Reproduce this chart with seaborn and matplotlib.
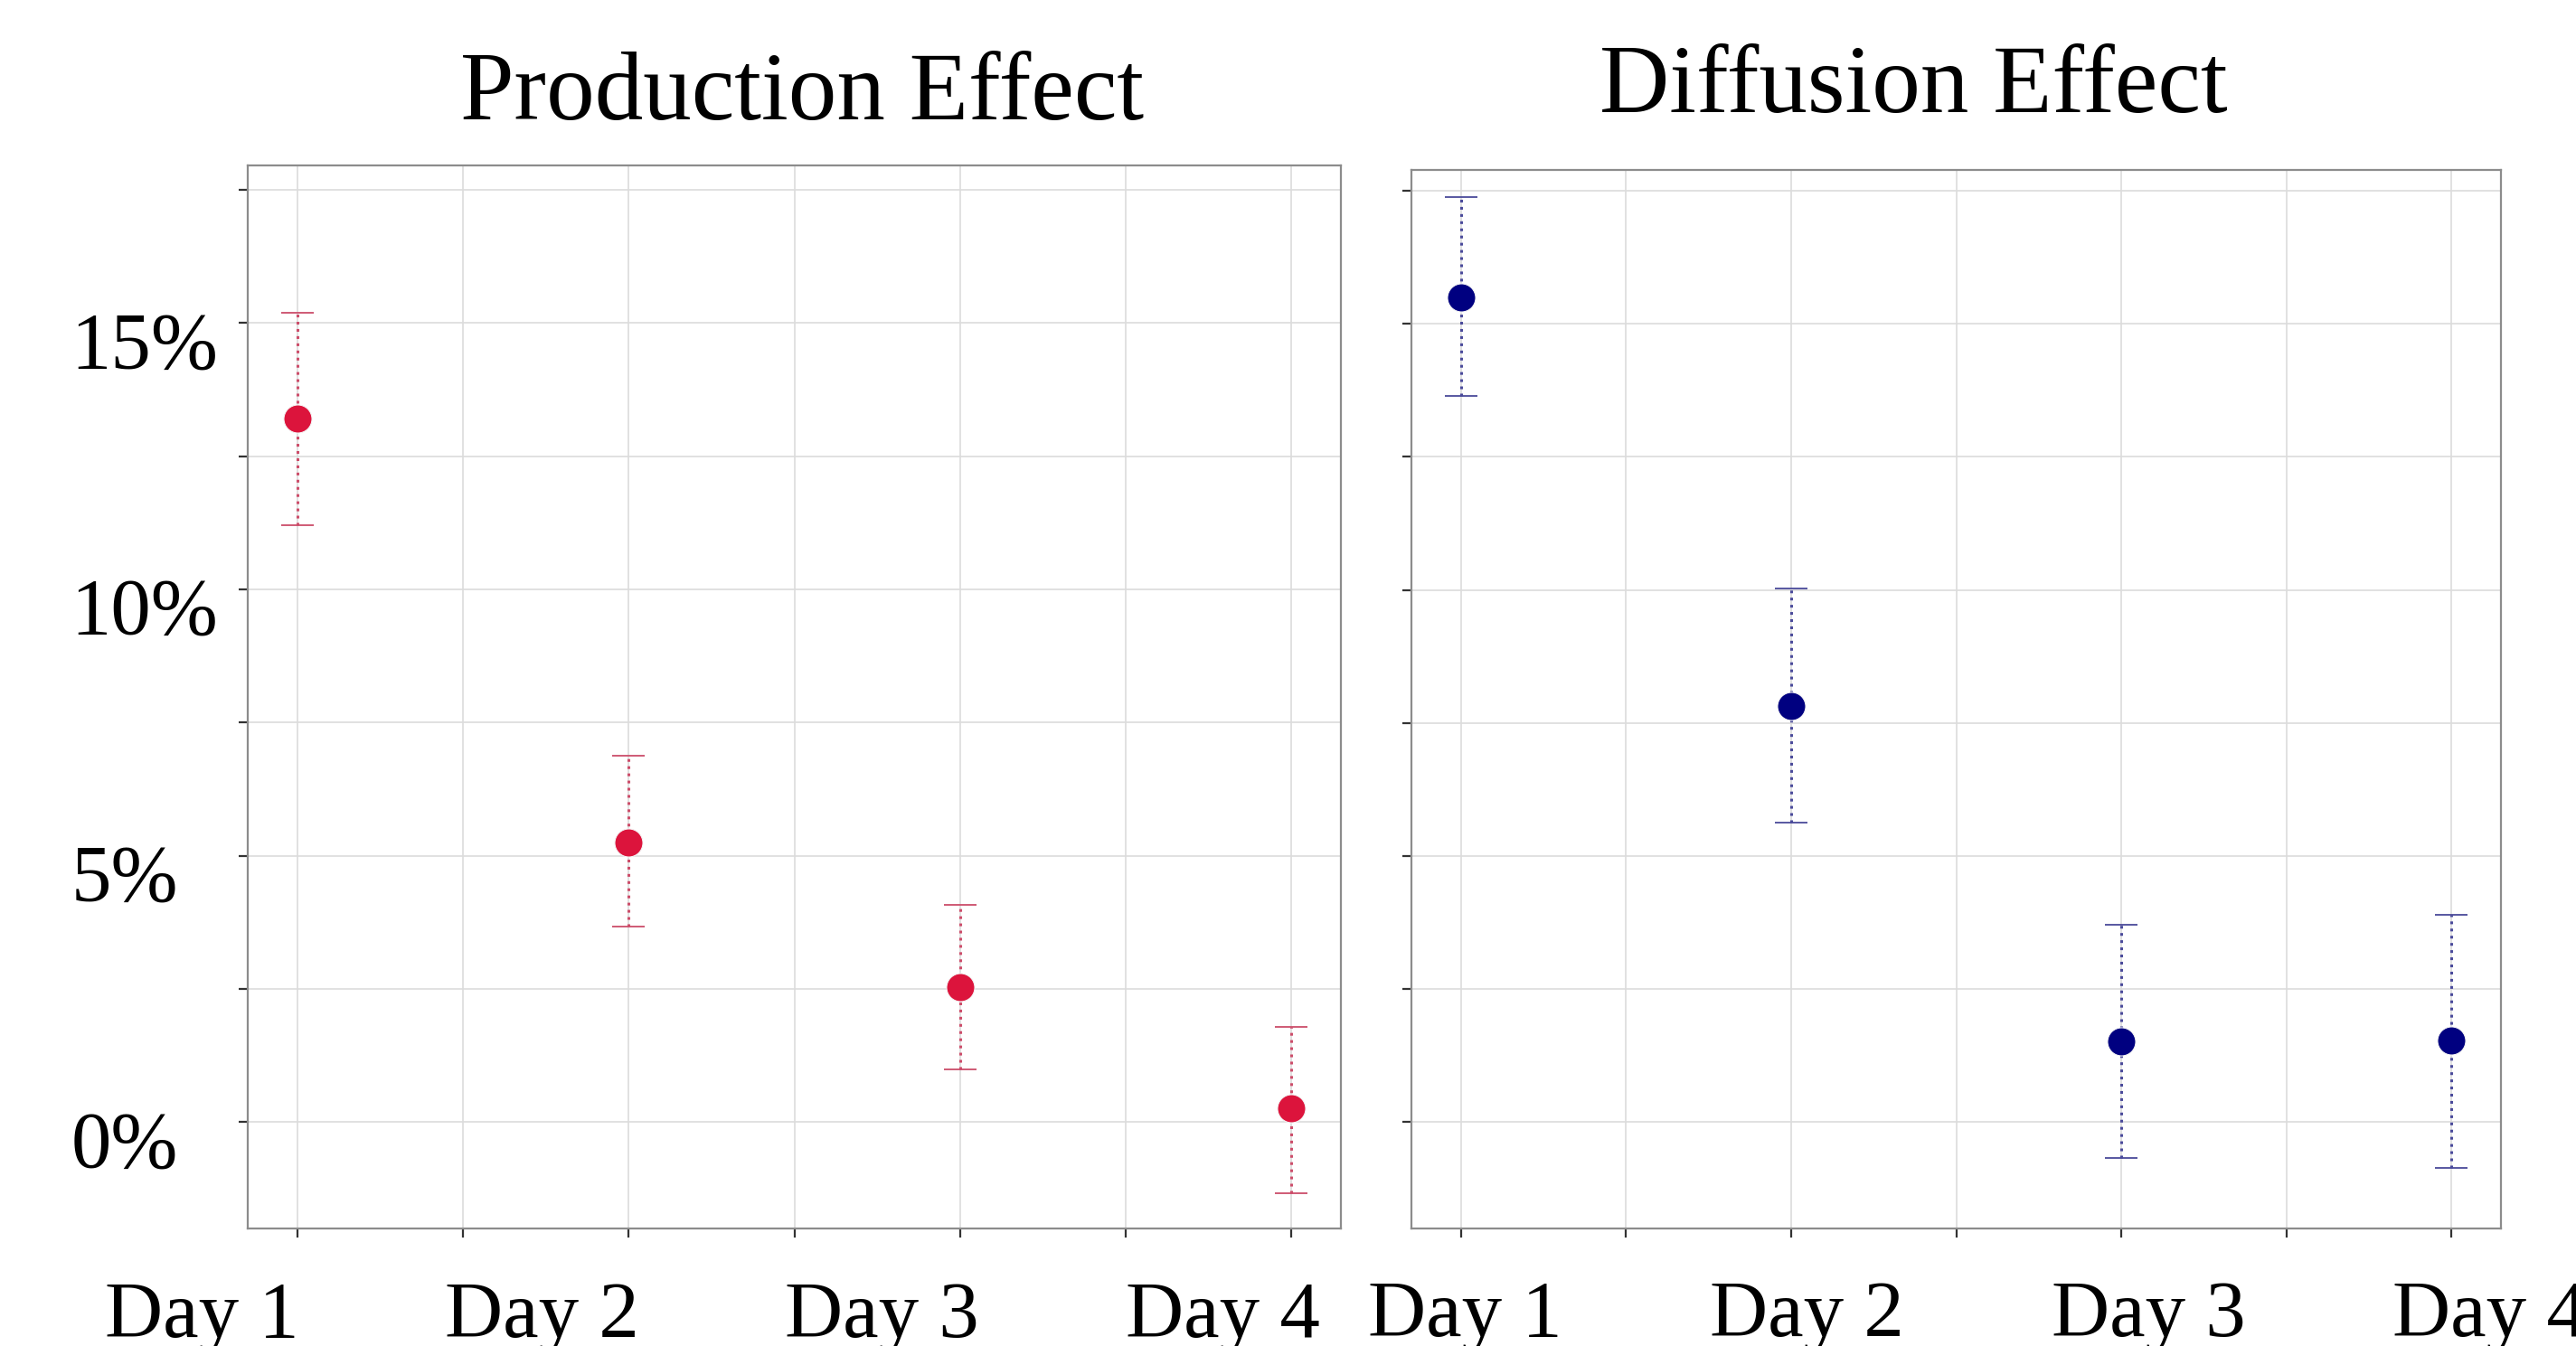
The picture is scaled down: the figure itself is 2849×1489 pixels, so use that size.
import numpy as np
import pandas as pd
import seaborn as sns
import matplotlib.pyplot as plt
from matplotlib.ticker import MultipleLocator, FuncFormatter
from matplotlib.transforms import ScaledTranslation, blended_transform_factory

days = ['Day 1', 'Day 2', 'Day 3', 'Day 4']

production_effect = [13.2, 5.25, 2.53, 0.25]
production_lower = [11.2, 3.67, 0.99, -1.33]
production_upper = [15.2, 6.88, 4.07, 1.79]

diffusion_effect = [15.5, 7.81, 1.51, 1.54]
diffusion_lower = [13.64, 5.62, -0.68, -0.86]
diffusion_upper = [17.38, 10.03, 3.70, 3.89]

sns.set_theme(style='whitegrid')
plt.rcParams['font.family'] = ['Liberation Serif', 'DejaVu Serif']
plt.rcParams['text.color'] = 'black'
plt.rcParams['axes.titlecolor'] = 'black'
plt.rcParams['ytick.labelcolor'] = 'black'

fig = plt.figure(figsize=(28.49, 14.89), dpi=100)
ax_l = fig.add_axes([0.0962, 0.0873, 0.4244, 0.7898])
ax_r = fig.add_axes([0.5479, 0.0873, 0.4230, 0.7864])


def draw_panel(ax, effect, lower, upper, color, bar_color, title, title_x, title_pad,
               label_start, label_step, ytop, show_labels):
    df = pd.DataFrame({'day': days, 'pos': np.arange(len(days)),
                       'effect': effect, 'lower': lower, 'upper': upper})
    err = [df['effect'] - df['lower'], df['upper'] - df['effect']]
    eb = ax.errorbar(df['pos'], df['effect'], yerr=err, fmt='none', ecolor=bar_color,
                     elinewidth=2.2, capsize=13, capthick=1.3, zorder=2)
    eb[2][0].set_linestyle((0, (1, 1.6)))
    sns.scatterplot(data=df, x='pos', y='effect', color=color, s=500,
                    edgecolor='#f4f4f4', linewidth=0.8, ax=ax, zorder=3)

    ax.set_xlim(-0.15, 3.15)
    ax.set_ylim(-2.0, ytop)
    ax.set_xticks(np.arange(0, 3.01, 0.5))
    ax.set_xticklabels([])
    ax.yaxis.set_major_locator(MultipleLocator(2.5))
    ax.set_xlabel('')
    ax.set_ylabel('')
    ax.grid(True, color='#dcdcdc', linewidth=1.2)
    for s in ax.spines.values():
        s.set_visible(True)
        s.set_color('#8c8c8c')
        s.set_linewidth(1.6)
    ax.tick_params(axis='both', length=7, width=1.6, color='#333333', direction='out',
                   left=True, bottom=True)

    if show_labels:
        ax.yaxis.set_major_formatter(FuncFormatter(
            lambda v, p: f'{v:.0f}%' if abs(v % 5) < 1e-6 and v >= 0 else ''))
        ax.tick_params(axis='y', labelsize=64, pad=134)
        shift = ScaledTranslation(0, -0.18, fig.dpi_scale_trans)
        for lab in ax.get_yticklabels():
            lab.set_horizontalalignment('left')
            lab.set_transform(lab.get_transform() + shift)
    else:
        ax.set_yticklabels([])

    ax.set_title(title, fontsize=77, x=title_x, pad=title_pad)

    trans = blended_transform_factory(ax.transData, ax.transAxes)
    for i, d in enumerate(days):
        ax.text(label_start + i * label_step, -0.102, d, transform=trans,
                ha='center', va='baseline', fontsize=64)


draw_panel(ax_l, production_effect, production_lower, production_upper,
           '#dc143c', '#cc4d6a', 'Production Effect', 0.507, 37,
           -0.289, 1.027, 17.96, True)
draw_panel(ax_r, diffusion_effect, diffusion_lower, diffusion_upper,
           '#000080', '#4a4a9a', 'Diffusion Effect', 0.461, 46,
           0.014, 1.034, 17.89, False)

fig.savefig('out.png', dpi=100, facecolor='white')
